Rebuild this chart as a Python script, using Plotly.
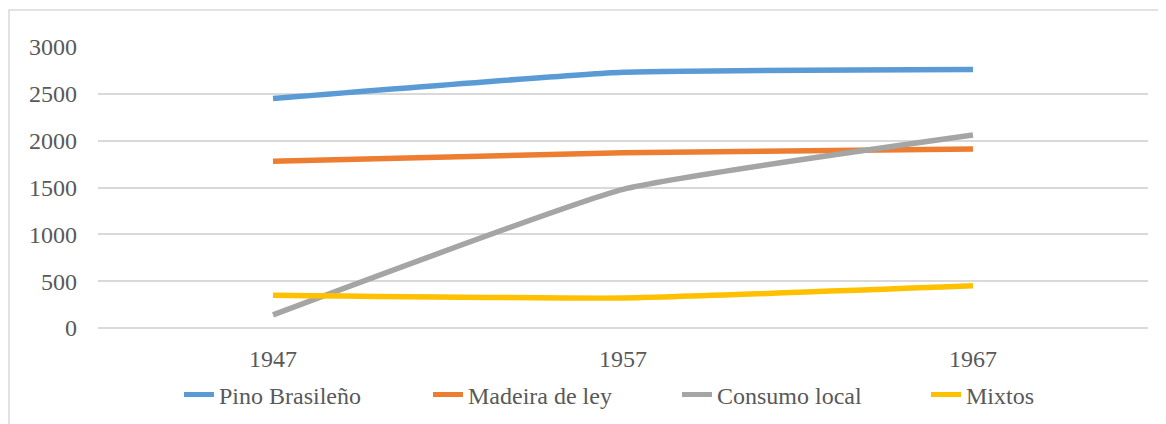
import plotly.graph_objects as go

years = ["1947", "1957", "1967"]
pino = [2450, 2730, 2760]
madeira = [1780, 1870, 1910]
consumo = [140, 1480, 2060]
mixtos = [350, 320, 450]

names = ["Pino Brasileño", "Madeira de ley", "Consumo local", "Mixtos"]
colors = ["#5B9BD5", "#ED7D31", "#A5A5A5", "#FFC000"]
series = [pino, madeira, consumo, mixtos]

y_ticks = [0, 500, 1000, 1500, 2000, 2500, 3000]

OFF = 8  # page body margin
W, H = 1166 - OFF, 424 - OFF
ml, mr, mt, mb = 98 - OFF, 18, 47 - OFF, 96
pw, ph = W - ml - mr, H - mt - mb

fig = go.Figure()
for name, col, vals in zip(names, colors, series):
    fig.add_trace(go.Scatter(
        x=years, y=vals, name=name, mode="lines",
        line=dict(color=col, width=5.5, shape="spline", smoothing=0.4),
    ))

font = dict(family="Liberation Serif", size=24, color="#595959")

fig.update_layout(
    width=W, height=H,
    margin=dict(l=ml, r=mr, t=mt, b=mb, autoexpand=False),
    paper_bgcolor="white", plot_bgcolor="white",
    font=font,
    showlegend=True,
    legend=dict(
        orientation="h", x=(179 - OFF - ml) / pw, xanchor="left",
        y=(H - mb - (395 - OFF)) / ph, yanchor="middle",
        font=font,
        entrywidth=204, entrywidthmode="pixels",
        itemsizing="constant", bgcolor="rgba(0,0,0,0)",
    ),
    xaxis=dict(
        type="category", range=[-0.5, 2.5], showgrid=False, zeroline=False,
        showline=False, ticks="", ticklabelstandoff=14, tickfont=font,
    ),
    yaxis=dict(
        range=[0, 3000], tickvals=y_ticks, ticktext=[str(v) for v in y_ticks],
        showgrid=True, gridcolor="#D9D9D9", gridwidth=1.5,
        zeroline=True, zerolinecolor="#D9D9D9", zerolinewidth=1.5,
        showline=False, ticks="", ticklabelstandoff=20, tickfont=font,
    ),
    shapes=[dict(
        type="rect", xref="paper", yref="paper",
        x0=(1 - ml) / pw, x1=(W + 20 - ml) / pw,
        y0=(H - mb - (H + 20)) / ph, y1=(H - mb - (10 - OFF)) / ph,
        line=dict(color="#D9D9D9", width=1.5), fillcolor="rgba(0,0,0,0)",
        layer="below",
    )],
)

fig.write_html("out.html")
